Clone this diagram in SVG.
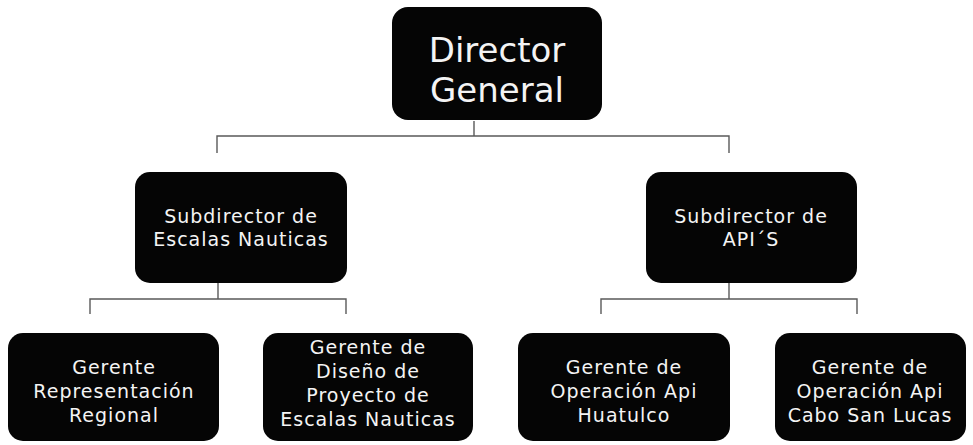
<svg xmlns="http://www.w3.org/2000/svg" width="973" height="445" viewBox="0 0 973 445">
<style>
.box{fill:#050505;}
.t{font-family:"DejaVu Sans","Open Sans",sans-serif;fill:#f4f4f4;text-anchor:middle;}
.big{font-size:34px;}
.mid{font-size:19px;letter-spacing:1px;}
.sm{font-size:19px;letter-spacing:1px;}
.c{fill:none;stroke:#5a5a5a;stroke-width:1.4;}
</style>
<rect width="973" height="445" fill="#fff"/>
<g id="connectors">
<path class="c" d="M474 121V136M217 153V136H729V153"/>
<path class="c" d="M218 283V299M90 314V299H346V314"/>
<path class="c" d="M729 283V299M601 314V299H857V314"/>
</g>
<g id="director">
<rect class="box" x="392" y="7" width="210" height="113" rx="16"/>
<text class="t big"><tspan x="497" y="62">Director</tspan><tspan x="497" y="102">General</tspan></text>
</g>
<g id="sub-escalas">
<rect class="box" x="135" y="172" width="212" height="111" rx="15"/>
<text class="t mid"><tspan x="241" y="223">Subdirector de</tspan><tspan x="241" y="246">Escalas Nauticas</tspan></text>
</g>
<g id="sub-apis">
<rect class="box" x="646" y="172" width="211" height="111" rx="15"/>
<text class="t mid"><tspan x="751" y="223">Subdirector de</tspan><tspan x="751" y="246">API´S</tspan></text>
</g>
<g id="g-representacion">
<rect class="box" x="8" y="333" width="211" height="108" rx="15"/>
<text class="t sm"><tspan x="114" y="374">Gerente</tspan><tspan x="114" y="398">Representación</tspan><tspan x="114" y="422">Regional</tspan></text>
</g>
<g id="g-diseno">
<rect class="box" x="263" y="333" width="210" height="108" rx="15"/>
<text class="t sm"><tspan x="368" y="354">Gerente de</tspan><tspan x="368" y="378">Diseño de</tspan><tspan x="368" y="402">Proyecto de</tspan><tspan x="368" y="426">Escalas Nauticas</tspan></text>
</g>
<g id="g-huatulco">
<rect class="box" x="518" y="333" width="212" height="108" rx="15"/>
<text class="t sm"><tspan x="624" y="374">Gerente de</tspan><tspan x="624" y="398">Operación Api</tspan><tspan x="624" y="422">Huatulco</tspan></text>
</g>
<g id="g-cabo">
<rect class="box" x="775" y="333" width="191" height="108" rx="15"/>
<text class="t sm"><tspan x="870" y="374">Gerente de</tspan><tspan x="870" y="398">Operación Api</tspan><tspan x="870" y="422">Cabo San Lucas</tspan></text>
</g>
</svg>
